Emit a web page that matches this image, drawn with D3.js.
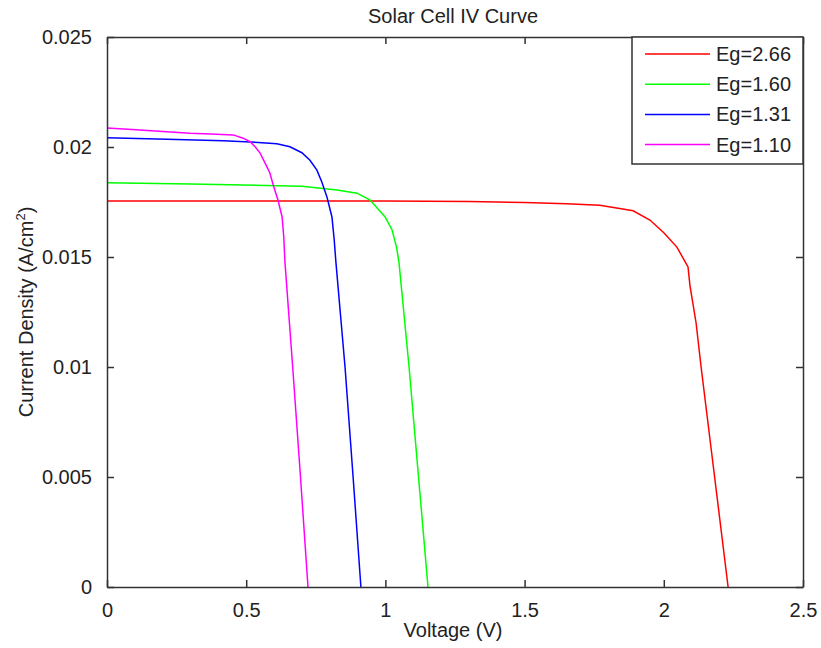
<!DOCTYPE html>
<html>
<head>
<meta charset="utf-8">
<script src="https://cdn.jsdelivr.net/npm/d3@7"></script>
<style>
	body { margin: 0; background: #fff; }
	svg text { font-family: "Liberation Sans", Arial, sans-serif; fill: #222; }
</style>
</head>
<body>
<div id="svg-container"></div>
<script>

// DATA
const seriesNames = ['Eg=2.66', 'Eg=1.60', 'Eg=1.31', 'Eg=1.10'];
const seriesColors = ['#ff0000', '#00ff00', '#0000ff', '#ff00ff'];

// voltage (V), current density (A/cm2)
const redV = [0, 0.5, 1.0, 1.3, 1.5, 1.65, 1.77, 1.89, 1.95, 2.0, 2.047, 2.087, 2.094, 2.116, 2.134, 2.1825, 2.231];
const redJ = [0.01755, 0.01755, 0.01754, 0.01752, 0.01748, 0.01742, 0.01735, 0.0171, 0.01668, 0.0161, 0.01545, 0.01455, 0.0137, 0.012, 0.01, 0.005, 0];

const greenV = [0, 0.3, 0.7, 0.826, 0.898, 0.945, 0.999, 1.024, 1.04, 1.049, 1.085, 1.119, 1.153];
const greenJ = [0.01838, 0.01832, 0.01822, 0.01805, 0.0179, 0.01759, 0.01682, 0.01623, 0.01545, 0.01473, 0.01, 0.005, 0];

const blueV = [0, 0.215, 0.417, 0.543, 0.61, 0.657, 0.70, 0.729, 0.754, 0.772, 0.79, 0.808, 0.816, 0.822, 0.855, 0.884, 0.912];
const blueJ = [0.02042, 0.02035, 0.02028, 0.02021, 0.02015, 0.02001, 0.01974, 0.0194, 0.01895, 0.0184, 0.01773, 0.01682, 0.0158, 0.0148, 0.01, 0.005, 0];

const magentaV = [0, 0.104, 0.2, 0.298, 0.394, 0.453, 0.489, 0.514, 0.532, 0.55, 0.568, 0.585, 0.597, 0.614, 0.629, 0.635, 0.639, 0.667, 0.695, 0.722];
const magentaJ = [0.02086, 0.02078, 0.0207, 0.02062, 0.02058, 0.02055, 0.0204, 0.02024, 0.02001, 0.01972, 0.01927, 0.01882, 0.01827, 0.01759, 0.01682, 0.0159, 0.0148, 0.01, 0.005, 0];

const xTicks = [0, 0.5, 1, 1.5, 2, 2.5];
const yTicks = [0, 0.005, 0.01, 0.015, 0.02, 0.025];

const allV = [redV, greenV, blueV, magentaV];
const allJ = [redJ, greenJ, blueJ, magentaJ];


function visualizeData(width = 821, height = 648) {
	const m = { left: 107, right: 803, top: 37, bottom: 587 };
	const tickLen = 7;
	const axisColor = '#333';

	const svg = d3.select('#svg-container').append('svg')
		.attr('width', width)
		.attr('height', height);

	// scales
	const xScale = d3.scaleLinear().domain([0, 2.5]).range([m.left, m.right]);
	const yScale = d3.scaleLinear().domain([0, 0.025]).range([m.bottom, m.top]);

	// curves
	const line = d3.line()
		.x(d => xScale(d[0]))
		.y(d => yScale(d[1]));
	allV.forEach((vs, i) => {
		const pts = vs.map((v, k) => [v, allJ[i][k]]);
		svg.append('path')
			.attr('d', line(pts))
			.attr('fill', 'none')
			.attr('stroke', seriesColors[i])
			.attr('stroke-width', 1.5);
	});

	// axes (matlab box, ticks inward on every side)
	const fmt = d => d3.format('')(+d.toFixed(3));
	svg.append('g')
		.attr('transform', `translate(0, ${m.bottom})`)
		.call(d3.axisBottom(xScale).tickValues(xTicks).tickSizeInner(-tickLen).tickSizeOuter(0).tickPadding(16).tickFormat(fmt));
	svg.append('g')
		.attr('transform', `translate(0, ${m.top})`)
		.call(d3.axisTop(xScale).tickValues(xTicks).tickSizeInner(-tickLen).tickSizeOuter(0).tickFormat(''));
	svg.append('g')
		.attr('transform', `translate(${m.left}, 0)`)
		.call(d3.axisLeft(yScale).tickValues(yTicks).tickSizeInner(-tickLen).tickSizeOuter(0).tickPadding(15).tickFormat(fmt));
	svg.append('g')
		.attr('transform', `translate(${m.right}, 0)`)
		.call(d3.axisRight(yScale).tickValues(yTicks).tickSizeInner(-tickLen).tickSizeOuter(0).tickFormat(''));
	svg.selectAll('.domain, .tick line')
		.attr('stroke', axisColor)
		.attr('stroke-width', 1.5);
	svg.selectAll('.tick text')
		.style('font-size', '20px')
		.attr('fill', '#222');

	// titles
	svg.append('text')
		.attr('x', 453).attr('y', 23)
		.attr('text-anchor', 'middle')
		.style('font-size', '20px')
		.text('Solar Cell IV Curve');
	svg.append('text')
		.attr('x', 453).attr('y', 637)
		.attr('text-anchor', 'middle')
		.style('font-size', '20px')
		.text('Voltage (V)');
	const yLab = svg.append('text')
		.attr('transform', 'translate(33, 312) rotate(-90)')
		.attr('text-anchor', 'middle')
		.style('font-size', '20px');
	yLab.append('tspan').text('Current Density (A/cm');
	yLab.append('tspan').attr('dy', -8).style('font-size', '13px').text('2');
	yLab.append('tspan').attr('dy', 8).text(')');

	// legend
	const lg = svg.append('g');
	lg.append('rect')
		.attr('x', 632).attr('y', m.top)
		.attr('width', m.right - 632).attr('height', 127)
		.attr('fill', '#fff')
		.attr('stroke', axisColor)
		.attr('stroke-width', 1.5);
	seriesNames.forEach((name, i) => {
		const y = 54 + i * 30.2;
		lg.append('line')
			.attr('x1', 645).attr('x2', 710)
			.attr('y1', y).attr('y2', y)
			.attr('stroke', seriesColors[i])
			.attr('stroke-width', 1.5);
		lg.append('text')
			.attr('x', 716).attr('y', y)
			.attr('dy', '0.35em')
			.style('font-size', '20px')
			.text(name);
	});
}


document.addEventListener('DOMContentLoaded', () => {
	visualizeData();
});
</script>
</body>
</html>
